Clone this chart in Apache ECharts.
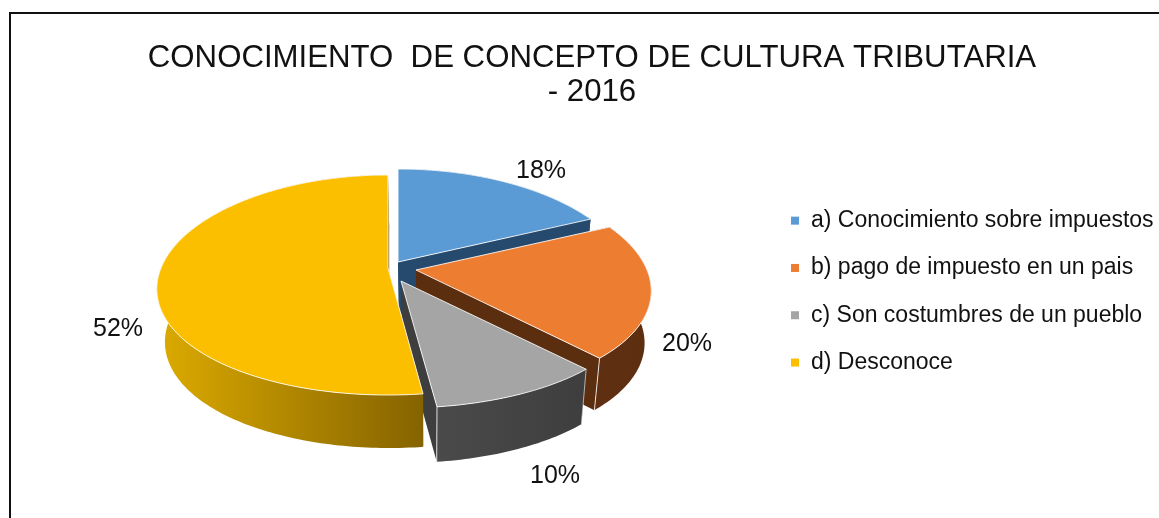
<!DOCTYPE html>
<html><head><meta charset="utf-8">
<style>html,body{margin:0;padding:0;background:#fff}#c{width:1159px;height:518px}</style>
<script src="https://cdn.jsdelivr.net/npm/echarts@6/dist/echarts.min.js"></script>
</head><body><div id="c"></div>
<script>
const categories = ['a) Conocimiento sobre impuestos','b) pago de impuesto en un pais','c) Son costumbres de un pueblo','d) Desconoce'];
const values = [18,20,10,52];
const titleText = 'CONOCIMIENTO  DE CONCEPTO DE CULTURA TRIBUTARIA\n- 2016';

// look of each slice
const topColors = ['#5b9bd5','#ed7d31','#a5a5a5','#fcbf00'];
const wallFrom = ['#264a6e','#602f11','#4a4a4a','#dcab00'];
const wallTo   = ['#264a6e','#5c2e10','#3e3e3e','#856300'];
// exploded apex of each slice on the page, radius, wall height and label centre
const apex = [[398,262],[416,270],[401,281],[388,268]];
const radii = [230,231,233,227];
const depths = [52,52,55,53];
const labelAt = [[541,171],[687,344],[555,476],[118,329]];
const S = 107.4, P = 0.1545, PX = 0.19, TAPER = 0.97, TAPER_X = 428;

const total = values.reduce((a,b)=>a+b,0);
const proj = (i,deg)=>{
  const t = deg*Math.PI/180, u = Math.sin(t), v = -Math.cos(t);
  return [apex[i][0]+radii[i]*u/(1-PX*v), apex[i][1]+S*v/(1-P*v)];
};
const poly = (pts,fill,stroke,op)=>({type:'polygon',shape:{points:pts},style:{fill,stroke:stroke||null,lineWidth:1,strokeOpacity:op==null?1:op,lineJoin:'round'}});

function renderSlice(i){
  const drop = p=>[TAPER_X+(p[0]-TAPER_X)*TAPER, p[1]+depths[i]];
  return function(params,api){
    const before = values.slice(0,i).reduce((a,b)=>a+b,0);
    const a0 = before/total*360, a1 = (before+api.value(0))/total*360;
    const arc = [];
    const n = Math.ceil(a1-a0);
    for(let k=0;k<=n;k++) arc.push(proj(i,a0+(a1-a0)*k/n));
    const c = [apex[i][0],apex[i][1]];
    const grad = new echarts.graphic.LinearGradient(0,0,1,0,[{offset:0,color:wallFrom[i]},{offset:1,color:wallTo[i]}]);
    const ch = [];
    [arc[0],arc[arc.length-1]].forEach(p=>{
      ch.push(poly([c,p,drop(p),drop(c)],wallTo[i]));
    });
    ch.push(poly(arc.concat(arc.slice().reverse().map(drop)),grad));
    const last = arc[arc.length-1], first = arc[0];
    if(i===1||i===2){ ch.push({type:'line',shape:{x1:last[0],y1:last[1],x2:drop(last)[0],y2:drop(last)[1]},style:{stroke:'#fff',lineWidth:1,opacity:.8}}); }
    if(i===2){ ch.push({type:'line',shape:{x1:first[0],y1:first[1],x2:drop(first)[0],y2:drop(first)[1]},style:{stroke:'#fff',lineWidth:1,opacity:.6}}); }
    ch.push(poly([c].concat(arc),topColors[i],'#ffffff',.85));
    ch.push({type:'text',x:labelAt[i][0],y:labelAt[i][1],style:{text:Math.round(api.value(0)/total*100)+'%',fill:'#111',font:'25px "Liberation Sans"',align:'center',verticalAlign:'middle'}});
    return {type:'group',children:ch};
  };
}

const chart = echarts.init(document.getElementById('c'),null,{renderer:'canvas'});
chart.setOption({
  animation:false,
  backgroundColor:'#fff',
  title:{text:titleText,left:587,top:36,textAlign:'center',textStyle:{fontFamily:'Liberation Sans',fontWeight:'normal',fontSize:31.2,lineHeight:34,color:'#111'}},
  legend:{data:categories,orient:'vertical',left:786,top:192,icon:'rect',itemWidth:8,itemHeight:8,itemGap:0,
    selectedMode:false,textStyle:{fontFamily:'Liberation Sans',fontSize:23,color:'#111',lineHeight:47.3,padding:[0,0,0,7]}},
  graphic:[{type:'rect',silent:true,z:-1,shape:{x:10,y:13,width:1300,height:700},style:{fill:'none',stroke:'#111',lineWidth:2}}],
  series:categories.map((name,i)=>({type:'custom',name,coordinateSystem:'none',itemStyle:{color:topColors[i]},renderItem:renderSlice(i),data:[[values[i]]]}))
});
</script></body></html>
